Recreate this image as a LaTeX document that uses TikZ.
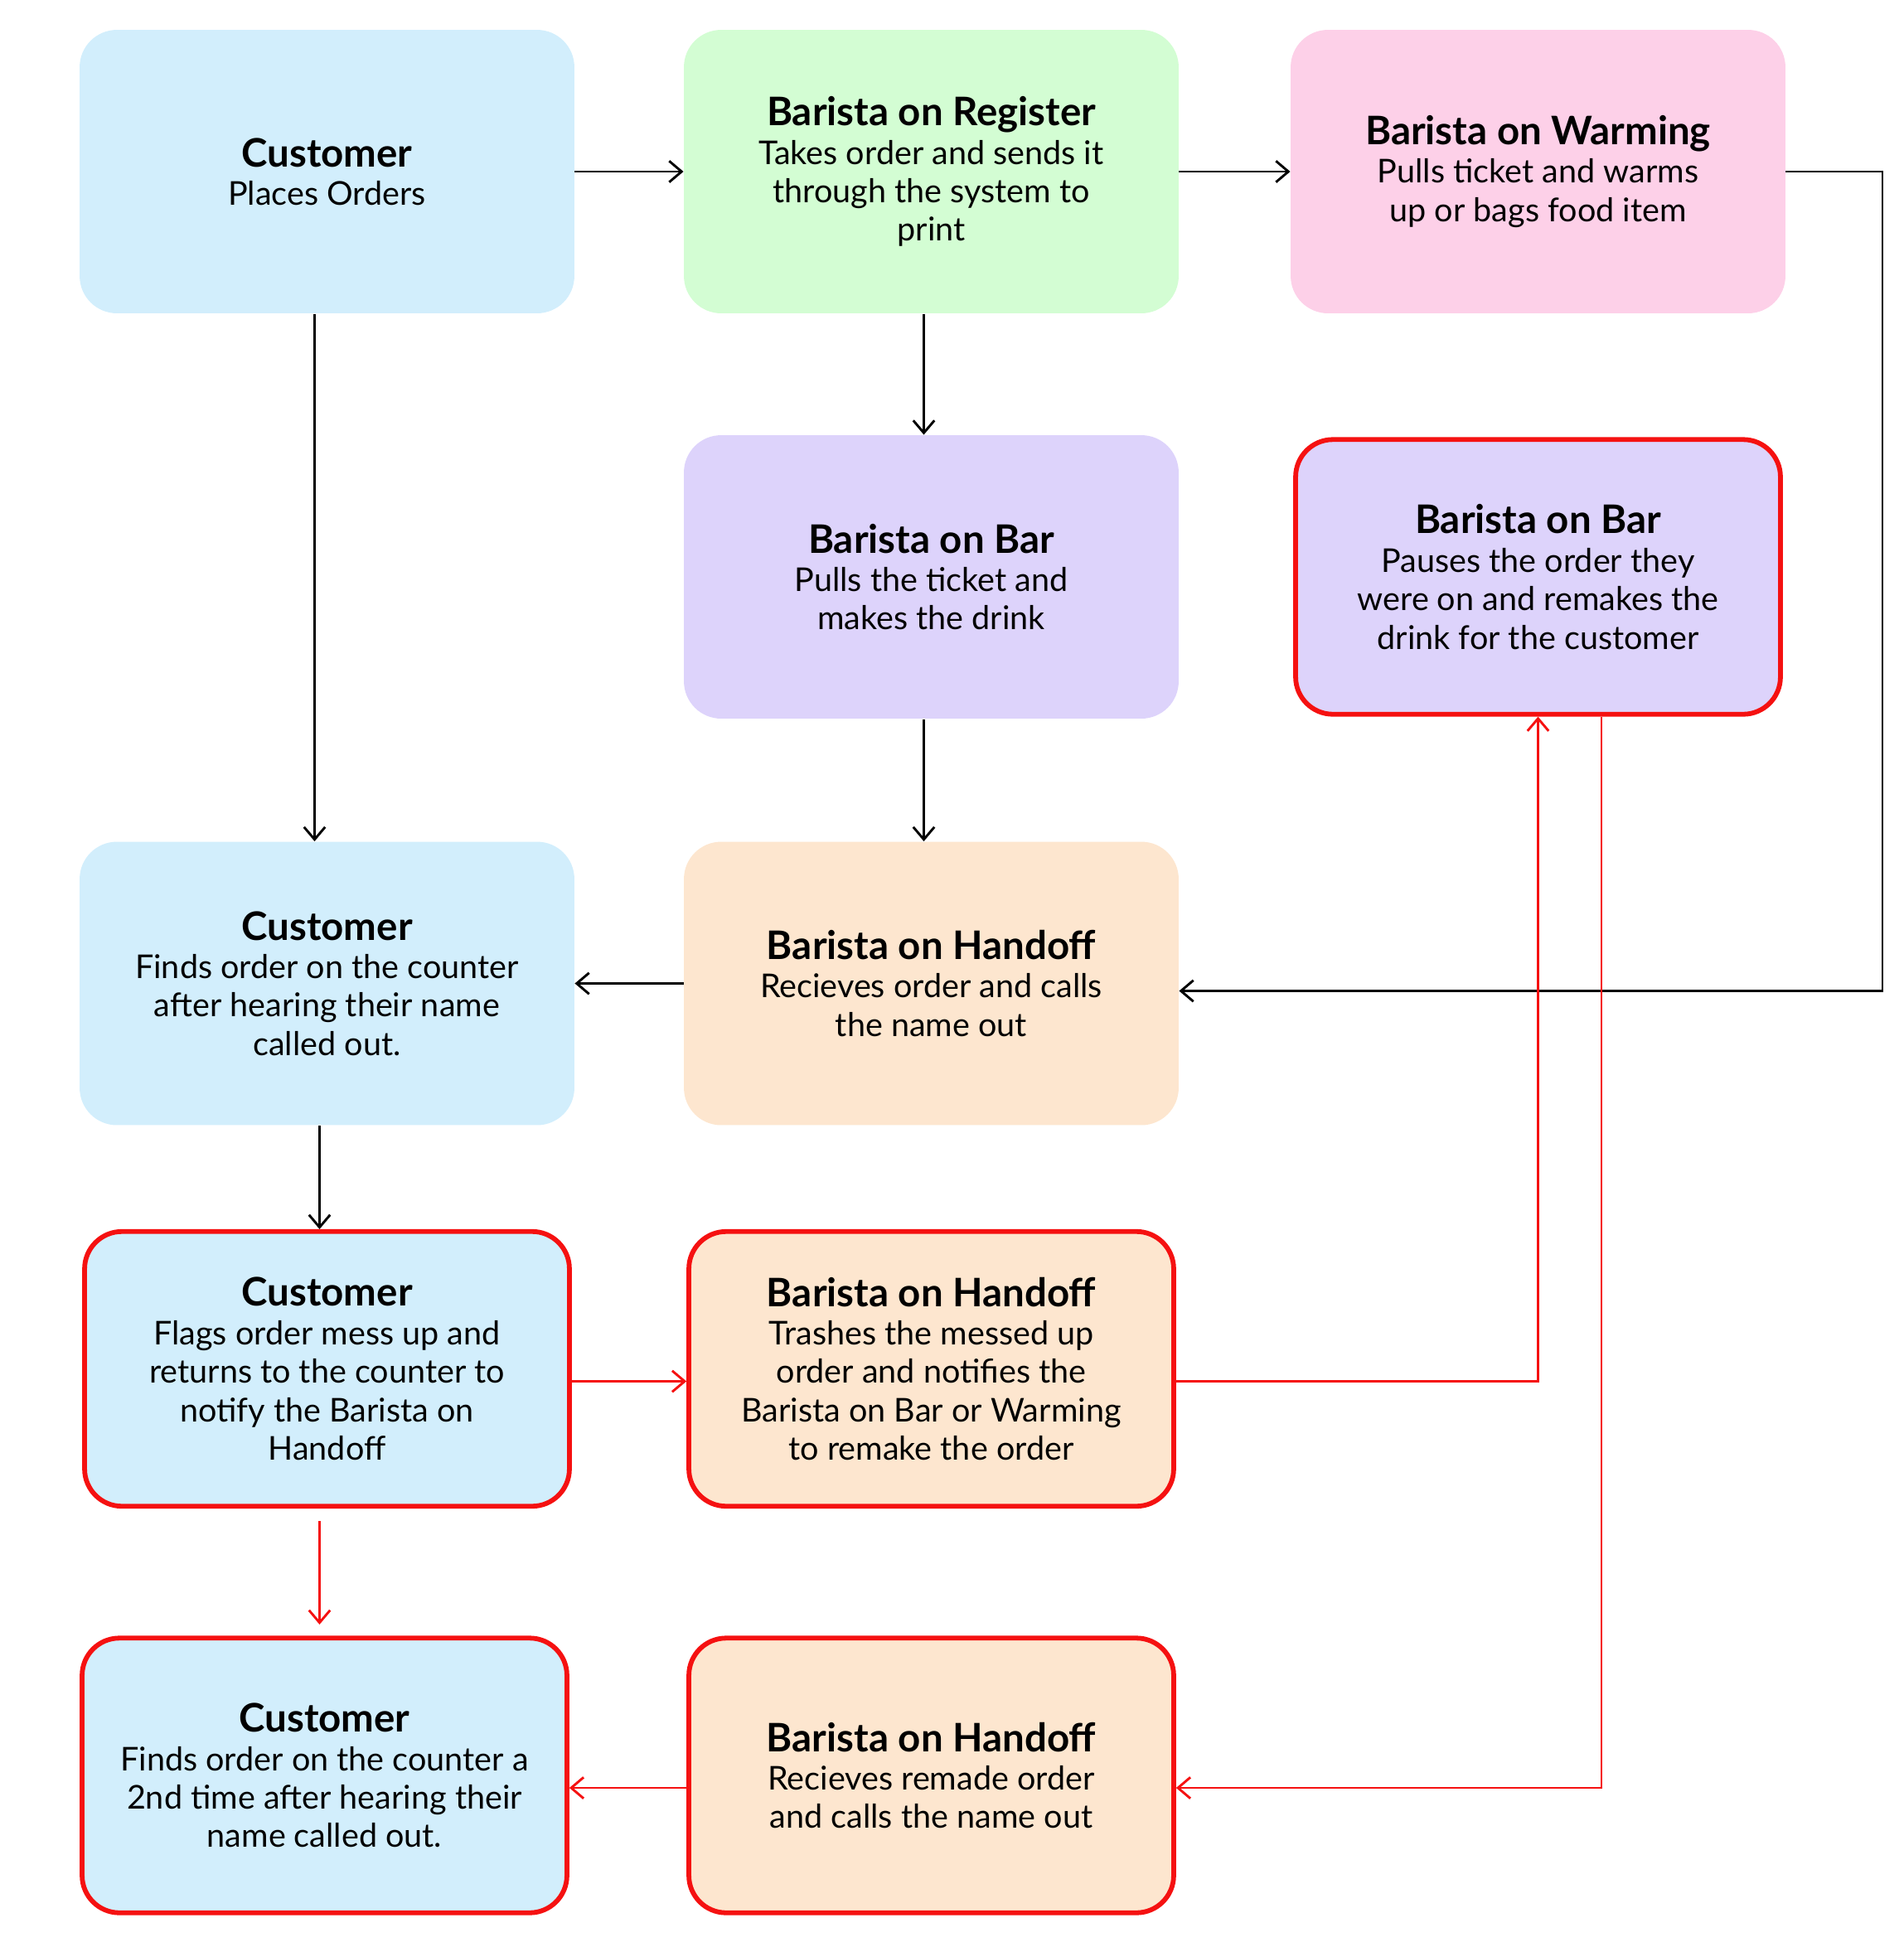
\documentclass[tikz,border=0pt]{standalone}
\usepackage{fontspec}
\setmainfont{Lato}
\usetikzlibrary{arrows.meta}

\definecolor{custblue}{HTML}{D2EEFC}
\definecolor{reggreen}{HTML}{D3FDD3}
\definecolor{warmpink}{HTML}{FDD0E8}
\definecolor{barpurple}{HTML}{DDD3FB}
\definecolor{handpeach}{HTML}{FDE6CF}
\definecolor{flagred}{HTML}{F51111}

\newcommand{\role}[1]{{\fontsize{18}{20}\selectfont\bfseries #1}}

\begin{document}
\begin{tikzpicture}[x=0.02cm,y=-0.02cm,
    box/.style={rounded corners=0.6cm, minimum width=7.96cm, minimum height=4.56cm,
      align=center, font=\fontsize{15}{17.6}\selectfont},
    redbox/.style={box, draw=flagred, line width=2.2pt, minimum width=7.8cm, minimum height=4.42cm},
    flow/.style={-{Straight Barb[length=0.2cm,width=0.34cm]}, line width=1.1pt},
    redflow/.style={flow, flagred}]
    \useasboundingbox (0,0) rectangle (1531.3,1566);

    % first row
    \node[box, fill=custblue] (c1) at (263,138) {\role{Customer}\\Places Orders};
    \node[box, fill=reggreen] (reg) at (749,138) {\role{Barista on Register}\\Takes order and sends it\\through the system to\\print};
    \node[box, fill=warmpink] (warm) at (1237,138) {\role{Barista on Warming}\\Pulls ticket and warms\\up or bags food item};

    % second row
    \node[box, fill=barpurple] (bar) at (749,464) {\role{Barista on Bar}\\Pulls the ticket and\\makes the drink};
    \node[redbox, fill=barpurple] (bar2) at (1237,464) {\role{Barista on Bar}\\Pauses the order they\\were on and remakes the\\drink for the customer};

    % third row
    \node[box, fill=custblue] (c2) at (263,791) {\role{Customer}\\Finds order on the counter\\after hearing their name\\called out.};
    \node[box, fill=handpeach] (hand1) at (749,791) {\role{Barista on Handoff}\\Recieves order and calls\\the name out};

    % the mess up
    \node[redbox, fill=custblue] (c3) at (263,1101) {\role{Customer}\\Flags order mess up and\\returns to the counter to\\notify the Barista on\\Handoff};
    \node[redbox, fill=handpeach] (hand2) at (749,1101) {\role{Barista on Handoff}\\Trashes the messed up\\order and notifies the\\Barista on Bar or Warming\\to remake the order};
    \node[redbox, fill=custblue] (c4) at (261,1428) {\role{Customer}\\Finds order on the counter a\\2nd time after hearing their\\name called out.};
    \node[redbox, fill=handpeach] (hand3) at (749,1428) {\role{Barista on Handoff}\\Recieves remade order\\and calls the name out};

    \coordinate (wturn) at (1514,138);
    \coordinate (hin) at ([yshift=-0.12cm]hand1.east);

    \draw[flow] (c1) -- (reg);
    \draw[flow] (reg) -- (warm);
    \draw[flow] (warm.east) -- (wturn) -- (wturn |- hin) -- (hin);
    \draw[flow] ([xshift=-0.2cm]c1.south) -- ([xshift=-0.2cm]c2.north);
    \draw[flow] ([xshift=-0.12cm]reg.south) -- ([xshift=-0.12cm]bar.north);
    \draw[flow] ([xshift=-0.12cm]bar.south) -- ([xshift=-0.12cm]hand1.north);
    \draw[flow] (hand1) -- (c2);
    \draw[flow] ([xshift=-0.12cm]c2.south) -- ([xshift=-0.12cm]c3.north);

    \draw[redflow] ([yshift=-0.2cm]c3.east) -- ([yshift=-0.2cm]hand2.west);
    \draw[redflow] ([yshift=-0.2cm]hand2.east) -| (bar2.south);
    \draw[redflow] ([xshift=1.02cm]bar2.south) |- ([yshift=-0.2cm]hand3.east);
    \draw[redflow, shorten <=0.2cm, shorten >=0.18cm] ([xshift=-0.12cm]c3.south) -- ([xshift=-0.08cm]c4.north);
    \draw[redflow] ([yshift=-0.2cm]hand3.west) -- ([yshift=-0.2cm]c4.east);
\end{tikzpicture}
\end{document}
